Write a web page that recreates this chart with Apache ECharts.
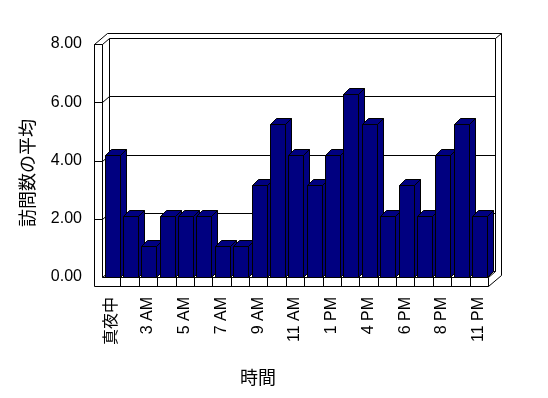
<!DOCTYPE html>
<html>
<head>
<meta charset="utf-8">
<script src="https://cdn.jsdelivr.net/npm/echarts@6/dist/echarts.min.js"></script>
<style>
html, body { margin: 0; padding: 0; background: #fff; }
#chart { width: 548px; height: 398px; }
</style>
</head>
<body>
<div id="chart"></div>
<script>
// 時間帯 (ラベルは1つおきに表示)
const categories = ['真夜中', '2 AM', '3 AM', '4 AM', '5 AM', '6 AM', '7 AM', '8 AM', '9 AM', '10 AM', '11 AM',
    '正午', '1 PM', '2 PM', '4 PM', '5 PM', '6 PM', '7 PM', '8 PM', '9 PM', '11 PM'];
// 訪問数の平均
const values = [4.2, 2.1, 1.05, 2.1, 2.1, 2.1, 1.05, 1.05, 3.15, 5.25, 4.2,
    3.15, 4.2, 6.3, 5.25, 2.1, 3.15, 2.1, 4.2, 5.25, 2.1];
const yTicks = [0, 2, 4, 6, 8];

const BAR_COLOR = '#000080';
const DEPTH = [7, -6];   // back wall offset
const OUTER = [13, -11]; // outer edge of the walls
const SLAB = 8;          // left wall thickness
const FLOOR = 9;         // floor thickness
const FONT = '"Liberation Sans", "Noto Sans CJK JP", sans-serif';

function px(v) {
    return Math.round(v) + 0.5;
}

function line(points, fill) {
    return {
        type: 'polygon',
        shape: { points: points.map(p => [px(p[0]), px(p[1])]) },
        style: { stroke: '#000', lineWidth: 1, fill: fill || 'none' },
        silent: true
    };
}

function polyline(points) {
    return {
        type: 'polyline',
        shape: { points: points.map(p => [px(p[0]), px(p[1])]) },
        style: { stroke: '#000', lineWidth: 1, fill: null },
        silent: true
    };
}

// walls, floor and gridlines
function renderFrame(params, api) {
    let cs = params.coordSys;
    let x0 = cs.x, x1 = cs.x + cs.width;
    let yTop = cs.y, yBot = cs.y + cs.height;
    let dx = DEPTH[0], dy = DEPTH[1];
    let children = [];

    // left slab + floor front face
    children.push(line([[x0 - SLAB, yTop], [x0, yTop], [x0, yBot], [x1, yBot],
        [x1, yBot + FLOOR], [x0 - SLAB, yBot + FLOOR]], '#fff'));

    yTicks.forEach(v => {
        let y = api.coord([0, v])[1];
        if (v > 0) {
            children.push(polyline([[x0 - SLAB, y], [x0, y], [x0 + dx, y + dy], [x1 + dx, y + dy]]));
        } else {
            children.push(polyline([[x0, y], [x0 + dx, y + dy], [x1 + dx, y + dy]]));
        }
    });

    children.push(polyline([[x0 + dx, yTop + dy], [x0 + dx, yBot + dy]]));
    children.push(polyline([[x1 + dx, yTop + dy], [x1 + dx, yBot + dy], [x1, yBot]]));

    // outer edge
    children.push(polyline([[x0 - SLAB, yTop], [x0 - SLAB + OUTER[0], yTop + OUTER[1]],
        [x1 + OUTER[0], yTop + OUTER[1]], [x1 + OUTER[0], yBot + FLOOR + OUTER[1]], [x1, yBot + FLOOR]]));
    children.push(polyline([[x1 + dx, yTop + dy], [x1 + OUTER[0], yTop + OUTER[1]]]));

    // floor dividers
    let n = categories.length;
    for (let i = 1; i < n; i++) {
        let x = x0 + i * cs.width / n;
        children.push(polyline([[x, yBot], [x, yBot + FLOOR]]));
    }
    return { type: 'group', children: children };
}

function renderBar(params, api) {
    let idx = api.value(0);
    let base = api.coord([idx, 0]);
    let top = api.coord([idx, api.value(1)]);
    let band = api.size([1, 0])[0];
    let l = base[0] - band / 2 + 2.5;
    let r = l + 15;
    let yb = base[1], yt = top[1];
    let d = 6;
    return {
        type: 'group',
        children: [
            line([[r, yt], [r + d, yt - d], [r + d, yb - d], [r, yb]], BAR_COLOR),
            line([[l, yt], [l + d, yt - d], [r + d, yt - d], [r, yt]], BAR_COLOR),
            line([[l, yt], [r, yt], [r, yb], [l, yb]], BAR_COLOR)
        ]
    };
}

let chart = echarts.init(document.getElementById('chart'));
chart.setOption({
    backgroundColor: '#fff',
    animation: false,
    grid: { left: 102, right: 60, top: 44, bottom: 121 },
    xAxis: {
        type: 'category',
        data: categories,
        axisLine: { show: false },
        axisTick: { show: false },
        axisLabel: {
            interval: 1,
            rotate: 90,
            margin: 20,
            color: '#000',
            fontSize: 16,
            fontFamily: FONT
        }
    },
    yAxis: {
        type: 'value',
        min: 0,
        max: 8,
        interval: 2,
        axisLine: { show: false },
        axisTick: { show: false },
        splitLine: { show: false },
        axisLabel: {
            margin: 20,
            color: '#000',
            fontSize: 16,
            fontFamily: FONT,
            formatter: v => v.toFixed(2)
        }
    },
    graphic: [{
        type: 'text',
        x: 27,
        y: 173,
        rotation: Math.PI / 2,
        style: {
            text: '訪問数の平均',
            font: '18px "Noto Sans CJK JP"',
            fill: '#000',
            align: 'center',
            verticalAlign: 'middle'
        }
    }, {
        type: 'text',
        x: 258,
        y: 377,
        style: {
            text: '時間',
            font: '18px "Noto Sans CJK JP"',
            fill: '#000',
            align: 'center',
            verticalAlign: 'middle'
        }
    }],
    series: [{
        type: 'custom',
        renderItem: renderFrame,
        data: [[0, 0]],
        clip: false,
        z: 1,
        silent: true
    }, {
        type: 'custom',
        renderItem: renderBar,
        data: values.map((v, i) => [i, v]),
        clip: false,
        z: 2
    }]
});
</script>
</body>
</html>
